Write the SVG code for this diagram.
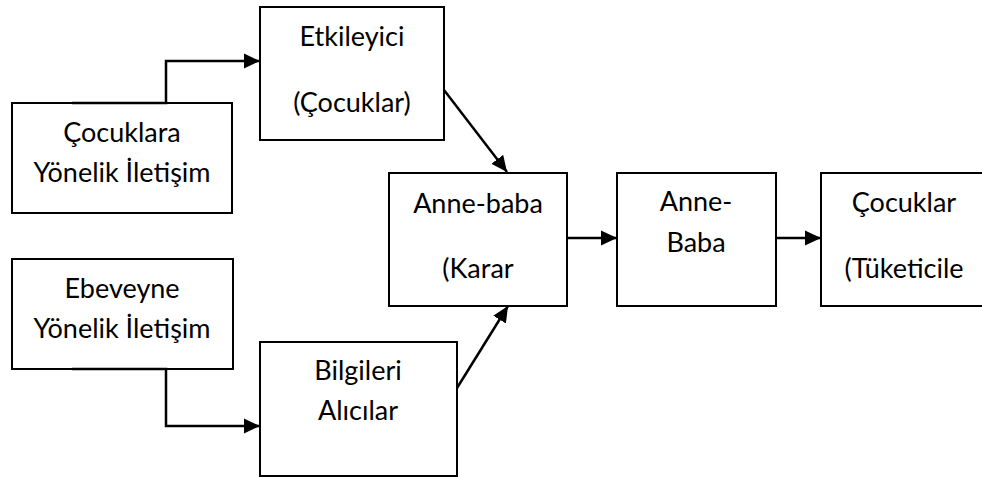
<svg xmlns="http://www.w3.org/2000/svg" width="982" height="477" viewBox="0 0 982 477">
<style>
.box{fill:#fff;stroke:#000;stroke-width:2}
.lbl{font-family:Lato,"Open Sans","Liberation Sans",sans-serif;font-size:27px;fill:#000;text-anchor:middle}
.con{fill:none;stroke:#000;stroke-width:2.5;marker-end:url(#arr)}
</style>
<defs>
<marker id="arr" markerUnits="userSpaceOnUse" markerWidth="16" markerHeight="16" viewBox="0 0 15 14" refX="15" refY="7" orient="auto">
<path d="M0,0 L15,7 L0,14 Z" fill="#000"/>
</marker>
</defs>
<rect width="982" height="477" fill="#fff"/>
<g id="n1"><rect class="box" x="12" y="103" width="220" height="110"/><text class="lbl" x="122" y="142">Çocuklara</text><text class="lbl" x="122" y="182">Yönelik İletişim</text></g>
<g id="n2"><rect class="box" x="12" y="259" width="221" height="110"/><text class="lbl" x="122" y="298">Ebeveyne</text><text class="lbl" x="122" y="338">Yönelik İletişim</text></g>
<g id="n3"><rect class="box" x="260" y="7" width="184" height="133"/><text class="lbl" x="352" y="46">Etkileyici</text><text class="lbl" x="352" y="112">(Çocuklar)</text></g>
<g id="n4"><rect class="box" x="260" y="342" width="197" height="134"/><text class="lbl" x="358" y="380">Bilgileri</text><text class="lbl" x="358" y="420">Alıcılar</text></g>
<g id="n5"><rect class="box" x="389" y="173" width="178" height="133"/><text class="lbl" x="478" y="213">Anne-baba</text><text class="lbl" x="478" y="278">(Karar</text></g>
<g id="n6"><rect class="box" x="617" y="173" width="159" height="133"/><text class="lbl" x="696" y="211">Anne-</text><text class="lbl" x="696" y="252">Baba</text></g>
<g id="n7"><rect class="box" x="821" y="173" width="170" height="133"/><text class="lbl" x="904" y="212">Çocuklar</text><text class="lbl" x="904" y="278">(Tüketicile</text></g>
<g id="connectors">
<path class="con" d="M72,103 H166 V61 H260"/>
<path class="con" d="M72,369 H166 V426 H260"/>
<path class="con" d="M444,90 L507,172"/>
<path class="con" d="M457,388 L508,306"/>
<path class="con" d="M567,238 H617"/>
<path class="con" d="M776,238 H821"/>
</g>
</svg>
